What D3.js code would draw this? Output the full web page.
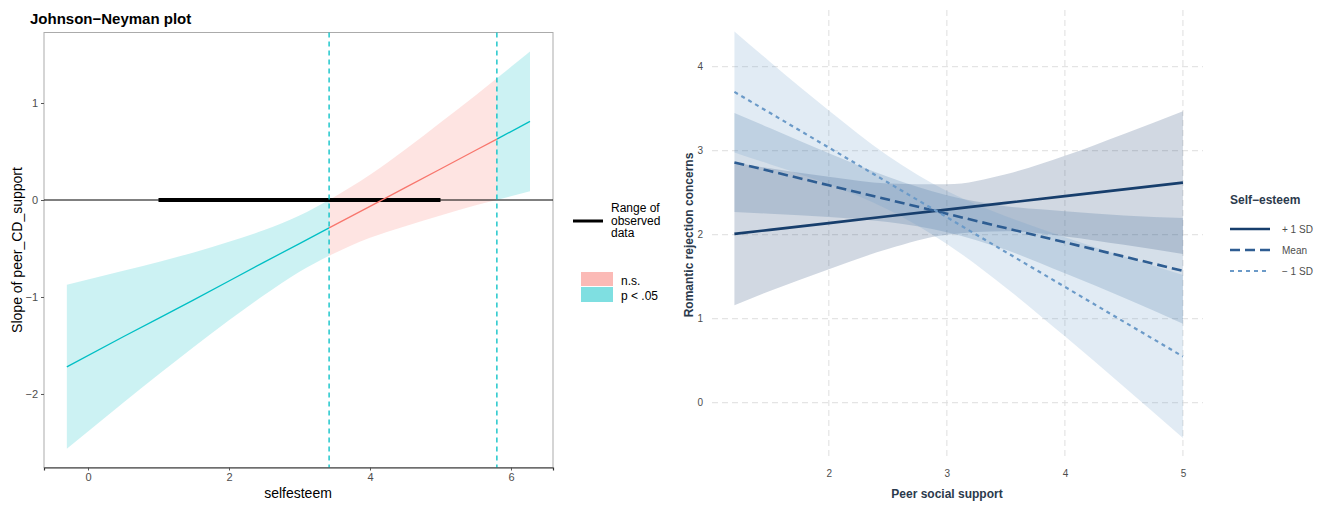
<!DOCTYPE html>
<html>
<head>
<meta charset="utf-8">
<script src="https://cdn.jsdelivr.net/npm/d3@7"></script>
<style>
  body { margin: 0; background: #fff; }
  svg { display: block; font-family: "Liberation Sans", Arial, sans-serif; }
</style>
</head>
<body>
<div id="vis"></div>
<script>
// ---- Johnson-Neyman panel data ----
const jnX     = [-0.3, 0.5, 1.0, 1.5, 2.0, 2.5, 3.0, 3.42, 4.0, 4.5, 5.0, 5.5, 5.8, 6.27];
const jnEst   = [-1.72, -1.41, -1.22, -1.03, -0.835, -0.64, -0.45, -0.288, -0.065, 0.128, 0.32, 0.513, 0.628, 0.81];
const jnLower = [-2.565, -2.09, -1.80, -1.515, -1.24, -0.98, -0.74, -0.576, -0.39, -0.27, -0.16, -0.055, 0.0, 0.09];
const jnUpper = [-0.875, -0.73, -0.64, -0.54, -0.43, -0.31, -0.16, 0.0, 0.26, 0.52, 0.80, 1.08, 1.256, 1.53];
const jnBounds = [3.42, 5.8];
const observedRange = [1, 5];
const jnXTicks = [0, 2, 4, 6];
const jnYTicks = [-2, -1, 0, 1];

// ---- Simple slopes panel data ----
const ssX        = [1.2, 1.5, 2.0, 2.5, 3.0, 3.5, 4.0, 4.5, 5.0];
const plusEst    = [2.01, 2.058, 2.138, 2.219, 2.299, 2.379, 2.459, 2.54, 2.62];
const plusLower  = [1.16, 1.33, 1.59, 1.83, 2.00, 2.04, 1.98, 1.88, 1.77];
const plusUpper  = [2.86, 2.79, 2.69, 2.61, 2.60, 2.72, 2.94, 3.20, 3.47];
const meanEst    = [2.86, 2.758, 2.588, 2.419, 2.249, 2.079, 1.909, 1.74, 1.57];
const meanLower  = [2.27, 2.25, 2.21, 2.15, 2.03, 1.82, 1.54, 1.25, 0.94];
const meanUpper  = [3.45, 3.27, 2.97, 2.69, 2.47, 2.34, 2.28, 2.23, 2.20];
const minusEst   = [3.70, 3.451, 3.037, 2.622, 2.208, 1.793, 1.379, 0.964, 0.55];
const minusLower = [2.98, 2.84, 2.60, 2.30, 1.89, 1.37, 0.79, 0.19, -0.42];
const minusUpper = [4.42, 4.06, 3.48, 2.94, 2.52, 2.22, 1.97, 1.74, 1.52];
const levels     = ["+ 1 SD", "Mean", "\u2212 1 SD"];
const ssXTicks   = [2, 3, 4, 5];
const ssYTicks   = [0, 1, 2, 3, 4];

const svg = d3.select("#vis").append("svg")
  .attr("width", 1325).attr("height", 510);

// ================= Left: Johnson-Neyman plot =================
const teal = "#00BFC4", salmon = "#F8766D";
const xL = d3.scaleLinear().domain([-0.624, 6.596]).range([44, 553]);
const yL = d3.scaleLinear().domain([-2.758, 1.727]).range([467.5, 32.5]);

const jn = jnX.map((x, i) => ({ x, est: jnEst[i], lo: jnLower[i], hi: jnUpper[i] }));
const segs = [
  { data: jn.filter(d => d.x <= jnBounds[0]), col: teal },
  { data: jn.filter(d => d.x >= jnBounds[0] && d.x <= jnBounds[1]), col: salmon },
  { data: jn.filter(d => d.x >= jnBounds[1]), col: teal }
];

const left = svg.append("g");

left.append("rect")
  .attr("x", 44).attr("y", 32.5).attr("width", 509).attr("height", 435)
  .attr("fill", "none").attr("stroke", "#ababab").attr("stroke-width", 1);

const areaL = d3.area().x(d => xL(d.x)).y0(d => yL(d.lo)).y1(d => yL(d.hi)).curve(d3.curveMonotoneX);
const lineL = d3.line().x(d => xL(d.x)).y(d => yL(d.est));

segs.forEach(s => {
  left.append("path").datum(s.data)
    .attr("d", areaL).attr("fill", s.col).attr("fill-opacity", 0.2);
});

// zero line
left.append("line")
  .attr("x1", 44).attr("x2", 553).attr("y1", yL(0)).attr("y2", yL(0))
  .attr("stroke", "#000").attr("stroke-width", 1);

// range of observed data
left.append("line")
  .attr("x1", xL(observedRange[0])).attr("x2", xL(observedRange[1]))
  .attr("y1", yL(0)).attr("y2", yL(0))
  .attr("stroke", "#000").attr("stroke-width", 4);

segs.forEach(s => {
  left.append("path").datum(s.data)
    .attr("d", lineL).attr("fill", "none").attr("stroke", s.col).attr("stroke-width", 1.3);
});

// JN bounds
jnBounds.forEach(b => {
  left.append("line")
    .attr("x1", xL(b)).attr("x2", xL(b)).attr("y1", 32.5).attr("y2", 467.5)
    .attr("stroke", teal).attr("stroke-width", 1.3).attr("stroke-dasharray", "5,4");
});

// axes
const axB = left.append("g").attr("transform", "translate(0,467.5)")
  .call(d3.axisBottom(xL).tickValues(jnXTicks).tickSize(3).tickPadding(3).tickFormat(d3.format("d")));
axB.select(".domain").attr("stroke", "#333").attr("stroke-width", 1.2);
const axL = left.append("g").attr("transform", "translate(44,0)")
  .call(d3.axisLeft(yL).tickValues(jnYTicks).tickSize(3).tickPadding(3)
    .tickFormat(d => d < 0 ? "\u2212" + Math.abs(d) : d));
axL.select(".domain").remove();
[axB, axL].forEach(a => {
  a.selectAll(".tick line").attr("stroke", "#555");
  a.selectAll(".tick text").attr("fill", "#4d4d4d").style("font-size", "11px");
});

left.append("text").attr("x", 30).attr("y", 24)
  .style("font-size", "15px").style("font-weight", "bold").text("Johnson\u2212Neyman plot");
left.append("text").attr("x", 298).attr("y", 498).attr("text-anchor", "middle")
  .style("font-size", "14px").text("selfesteem");
left.append("text").attr("transform", "translate(22,250) rotate(-90)").attr("text-anchor", "middle")
  .style("font-size", "14px").text("Slope of peer_CD_support");

// legend
const lg = left.append("g").style("font-size", "12px");
lg.append("line").attr("x1", 573).attr("x2", 603).attr("y1", 221).attr("y2", 221)
  .attr("stroke", "#000").attr("stroke-width", 3);
["Range of", "observed", "data"].forEach((t, i) => {
  lg.append("text").attr("x", 611).attr("y", 212 + i * 12.5).text(t);
});
lg.append("rect").attr("x", 581).attr("y", 272).attr("width", 32).attr("height", 14)
  .attr("fill", salmon).attr("fill-opacity", 0.5);
lg.append("rect").attr("x", 581).attr("y", 287).attr("width", 32).attr("height", 15)
  .attr("fill", teal).attr("fill-opacity", 0.5);
lg.append("text").attr("x", 621).attr("y", 285).text("n.s.");
lg.append("text").attr("x", 621).attr("y", 300).text("p < .05");

// ================= Right: simple slopes =================
const xR = d3.scaleLinear().domain([1.01, 5.17]).range([712, 1203]);
const yR = d3.scaleLinear().domain([-0.67, 4.675]).range([459, 10]);
const right = svg.append("g");

// grid
ssYTicks.forEach(t => {
  right.append("line").attr("x1", 712).attr("x2", 1203).attr("y1", yR(t)).attr("y2", yR(t))
    .attr("stroke", "#dedede").attr("stroke-dasharray", "6,4");
});
ssXTicks.forEach(t => {
  right.append("line").attr("x1", xR(t)).attr("x2", xR(t)).attr("y1", 10).attr("y2", 459)
    .attr("stroke", "#dedede").attr("stroke-dasharray", "6,4");
});

const series = [
  { name: levels[0], est: plusEst, lo: plusLower, hi: plusUpper, col: "#173E6C", dash: null, w: 2.6 },
  { name: levels[1], est: meanEst, lo: meanLower, hi: meanUpper, col: "#2E5D92", dash: "10,5", w: 2.6 },
  { name: levels[2], est: minusEst, lo: minusLower, hi: minusUpper, col: "#6B9AC8", dash: "4,4", w: 2.2 }
];

const areaR = d3.area().x(d => xR(d.x)).y0(d => yR(d.lo)).y1(d => yR(d.hi)).curve(d3.curveMonotoneX);
const lineR = d3.line().x(d => xR(d.x)).y(d => yR(d.est));

series.forEach(s => {
  s.data = ssX.map((x, i) => ({ x, est: s.est[i], lo: s.lo[i], hi: s.hi[i] }));
  right.append("path").datum(s.data).attr("d", areaR)
    .attr("fill", s.col).attr("fill-opacity", 0.2);
});
series.forEach(s => {
  right.append("path").datum(s.data).attr("d", lineR)
    .attr("fill", "none").attr("stroke", s.col).attr("stroke-width", s.w)
    .attr("stroke-dasharray", s.dash);
});

// axes (labels only)
const axRB = right.append("g").attr("transform", "translate(0,467)")
  .call(d3.axisBottom(xR).tickValues(ssXTicks).tickSize(0).tickPadding(3).tickFormat(d3.format("d")));
const axRL = right.append("g").attr("transform", "translate(706,0)")
  .call(d3.axisLeft(yR).tickValues(ssYTicks).tickSize(0).tickPadding(3).tickFormat(d3.format("d")));
[axRB, axRL].forEach(a => {
  a.select(".domain").remove();
  a.selectAll(".tick text").attr("fill", "#4d4d4d").style("font-size", "10px");
});

right.append("text").attr("x", 947).attr("y", 498).attr("text-anchor", "middle")
  .style("font-size", "12px").style("font-weight", "bold").attr("fill", "#2b3a4c")
  .text("Peer social support");
right.append("text").attr("transform", "translate(693,235) rotate(-90)").attr("text-anchor", "middle")
  .style("font-size", "12px").style("font-weight", "bold").attr("fill", "#2b3a4c")
  .text("Romantic rejection concerns");

// legend
const lgR = right.append("g");
lgR.append("text").attr("x", 1230).attr("y", 204)
  .style("font-size", "12px").style("font-weight", "bold").attr("fill", "#2b3a4c").text("Self\u2212esteem");
series.forEach((s, i) => {
  const y = 229 + i * 21;
  lgR.append("line").attr("x1", 1230).attr("x2", 1270).attr("y1", y).attr("y2", y)
    .attr("stroke", s.col).attr("stroke-width", s.w).attr("stroke-dasharray", s.dash);
  lgR.append("text").attr("x", 1282).attr("y", y + 3.5)
    .style("font-size", "10px").attr("fill", "#4d4d4d").text(s.name);
});
</script>
</body>
</html>
